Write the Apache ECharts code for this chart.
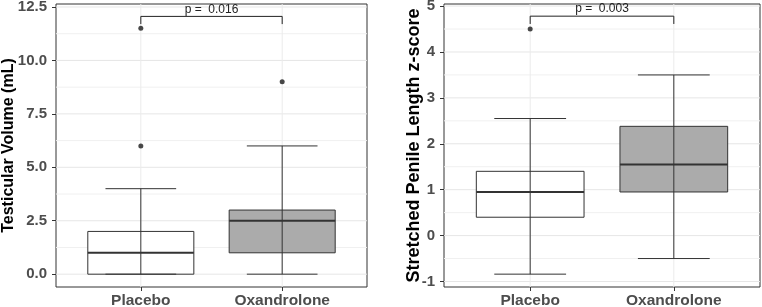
<!DOCTYPE html>
<html>
<head>
<meta charset="utf-8">
<script src="https://cdn.jsdelivr.net/npm/echarts@6/dist/echarts.min.js"></script>
<style>
  html, body { margin: 0; padding: 0; background: #fff; }
  #chart { width: 762px; height: 307px; }
</style>
</head>
<body>
<div id="chart"></div>
<script>
// groups on the x axis (placed at 1 and 2)
const categories = ["Placebo", "Oxandrolone"];

// testicular volume: [lower whisker, Q1, median, Q3, upper whisker]
const volumeBoxes = [
    [0, 0, 1, 2, 4],
    [0, 1, 2.5, 3, 6],
];
// outliers as [group, value]
const volumeOutliers = [[1, 6], [1, 11.5], [2, 9]];
const volumeTicks = [0, 2.5, 5, 7.5, 10, 12.5];
const volumeMinor = [1.25, 3.75, 6.25, 8.75, 11.25];
const volumeBracket = [11.7, 12.06]; // leg end, top
const volumeP = "p =  0.016";

// stretched penile length z-score
const penileBoxes = [
    [-0.84, 0.4, 0.95, 1.4, 2.55],
    [-0.5, 0.95, 1.55, 2.38, 3.5],
];
const penileOutliers = [[1, 4.5]];
const penileTicks = [-1, 0, 1, 2, 3, 4, 5];
const penileMinor = [-0.5, 0.5, 1.5, 2.5, 3.5, 4.5];
const penileBracket = [4.61, 4.78];
const penileP = "p =  0.003";

const boxFills = ["#ffffff", "#ababab"];
const lineColor = "#333333";
const font = "Liberation Sans, Arial, sans-serif";

// gridlines drawn inside the panel: [value, kind] kind 0 = major, 1 = minor, 2 = vertical
function gridData(major, minor) {
    const rows = [];
    major.forEach((v) => rows.push([v, 0]));
    minor.forEach((v) => rows.push([v, 1]));
    categories.forEach((c, i) => rows.push([i + 1, 2]));
    return rows;
}

function renderGrid(params, api) {
    const cs = params.coordSys;
    const v = api.value(0);
    const kind = api.value(1);
    if (kind === 2) {
        const px = api.coord([v, 0])[0];
        return {
            type: "line",
            shape: { x1: px, y1: cs.y, x2: px, y2: cs.y + cs.height },
            style: { stroke: "#ebebeb", lineWidth: 1 },
        };
    }
    const py = api.coord([1, v])[1];
    return {
        type: "line",
        shape: { x1: cs.x, y1: py, x2: cs.x + cs.width, y2: py },
        style: { stroke: kind === 0 ? "#e6e6e6" : "#f0f0f0", lineWidth: 1 },
    };
}

function renderBox(params, api) {
    const x = api.value(0);
    const low = api.coord([x, api.value(1)]);
    const q1 = api.coord([x, api.value(2)]);
    const med = api.coord([x, api.value(3)]);
    const q3 = api.coord([x, api.value(4)]);
    const high = api.coord([x, api.value(5)]);
    const half = api.size([0.75, 0])[0] / 2;
    const cap = api.size([0.5, 0])[0] / 2;
    const cx = low[0];
    return {
        type: "group",
        children: [
            {
                type: "rect",
                shape: { x: cx - half, y: q3[1], width: half * 2, height: q1[1] - q3[1] },
                style: { fill: boxFills[params.dataIndex], stroke: lineColor, lineWidth: 1 },
            },
            {
                type: "line",
                shape: { x1: cx, y1: low[1], x2: cx, y2: high[1] },
                style: { stroke: lineColor, lineWidth: 1 },
            },
            {
                type: "line",
                shape: { x1: cx - cap, y1: low[1], x2: cx + cap, y2: low[1] },
                style: { stroke: lineColor, lineWidth: 1 },
            },
            {
                type: "line",
                shape: { x1: cx - cap, y1: high[1], x2: cx + cap, y2: high[1] },
                style: { stroke: lineColor, lineWidth: 1 },
            },
            {
                type: "line",
                shape: { x1: cx - half, y1: med[1], x2: cx + half, y2: med[1] },
                style: { stroke: lineColor, lineWidth: 2 },
            },
        ],
    };
}

function makeBracketRender(label) {
    return function (params, api) {
        const leg = api.value(0);
        const top = api.value(1);
        const a = api.coord([1, leg]);
        const b = api.coord([1, top]);
        const c = api.coord([2, top]);
        const d = api.coord([2, leg]);
        return {
            type: "group",
            children: [
                {
                    type: "polyline",
                    shape: { points: [a, b, c, d] },
                    style: { stroke: "#222", lineWidth: 1, fill: null },
                },
                {
                    type: "text",
                    x: (b[0] + c[0]) / 2,
                    y: b[1] - 1,
                    style: {
                        text: label,
                        fontSize: 12,
                        fontFamily: font,
                        fill: "#222",
                        align: "center",
                        verticalAlign: "bottom",
                    },
                },
            ],
        };
    };
}

function xAxisFor(gridIndex) {
    return {
        type: "value",
        gridIndex: gridIndex,
        min: 0.4,
        max: 2.6,
        axisLine: { show: false, onZero: false },
        splitLine: { show: false },
        axisTick: { customValues: [1, 2], length: 4, lineStyle: { color: lineColor } },
        axisLabel: {
            customValues: [1, 2],
            formatter: (v) => categories[Math.round(v) - 1],
            margin: 6,
            fontSize: 15.5,
            fontWeight: "bold",
            fontFamily: font,
            color: "#4d4d4d",
        },
    };
}

function yAxisFor(gridIndex, min, max, ticks, name, gap, nameSize, fmt) {
    return {
        type: "value",
        gridIndex: gridIndex,
        min: min,
        max: max,
        name: name,
        nameLocation: "middle",
        nameGap: gap,
        nameMoveOverlap: false,
        nameTextStyle: { fontSize: nameSize, fontWeight: "bold", fontFamily: font, color: "#000" },
        axisLine: { show: false, onZero: false },
        splitLine: { show: false },
        axisTick: { customValues: ticks, length: 4, lineStyle: { color: lineColor } },
        axisLabel: {
            customValues: ticks,
            formatter: fmt,
            margin: 9,
            fontSize: 15,
            fontWeight: "bold",
            fontFamily: font,
            color: "#4d4d4d",
        },
    };
}

const chart = echarts.init(document.getElementById("chart"));
chart.setOption({
    animation: false,
    grid: [
        {
            left: 56, top: 4, width: 311, height: 283, outerBoundsMode: "none",
            show: true, borderColor: lineColor, borderWidth: 1, backgroundColor: "#fff",
        },
        {
            left: 444, top: 4, width: 316, height: 283, outerBoundsMode: "none",
            show: true, borderColor: lineColor, borderWidth: 1, backgroundColor: "#fff",
        },
    ],
    xAxis: [xAxisFor(0), xAxisFor(1)],
    yAxis: [
        yAxisFor(0, -0.6, 12.64, volumeTicks, "Testicular Volume (mL)", 39, 16, (v) => v.toFixed(1)),
        yAxisFor(1, -1.12, 5.045, penileTicks, "Stretched Penile Length z-score", 21, 18, (v) => String(v)),
    ],
    series: [
        {
            type: "custom", xAxisIndex: 0, yAxisIndex: 0, z: 1, silent: true,
            renderItem: renderGrid, data: gridData(volumeTicks, volumeMinor),
        },
        {
            type: "custom", xAxisIndex: 0, yAxisIndex: 0, z: 2,
            renderItem: renderBox, data: volumeBoxes.map((b, i) => [i + 1].concat(b)),
        },
        {
            type: "scatter", xAxisIndex: 0, yAxisIndex: 0, z: 3,
            symbolSize: 5, itemStyle: { color: "#1a1a1a" }, data: volumeOutliers,
        },
        {
            type: "custom", xAxisIndex: 0, yAxisIndex: 0, z: 3,
            renderItem: makeBracketRender(volumeP), data: [volumeBracket],
        },
        {
            type: "custom", xAxisIndex: 1, yAxisIndex: 1, z: 1, silent: true,
            renderItem: renderGrid, data: gridData(penileTicks, penileMinor),
        },
        {
            type: "custom", xAxisIndex: 1, yAxisIndex: 1, z: 2,
            renderItem: renderBox, data: penileBoxes.map((b, i) => [i + 1].concat(b)),
        },
        {
            type: "scatter", xAxisIndex: 1, yAxisIndex: 1, z: 3,
            symbolSize: 5, itemStyle: { color: "#1a1a1a" }, data: penileOutliers,
        },
        {
            type: "custom", xAxisIndex: 1, yAxisIndex: 1, z: 3,
            renderItem: makeBracketRender(penileP), data: [penileBracket],
        },
    ],
});
</script>
</body>
</html>
